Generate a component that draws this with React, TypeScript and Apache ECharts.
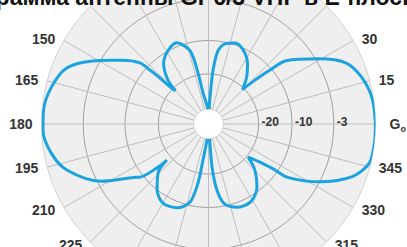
import React, { useEffect, useRef } from 'react';
import * as echarts from 'echarts';

const TITLE = 'Диаграмма антенны GP6/3 VHF в Е-плоскости';

// Pattern: angle (deg) and relative gain (dB)
const angles = [
  0, 9, 17, 24, 30.6, 39.2, 41.3, 43.4, 45.4, 50.7,
  57.1, 65, 71.9, 78.5, 82.7, 85.2, 86.8, 90, 94.5, 100,
  101.6, 104, 111.3, 119.3, 126.7, 132.6, 134.8, 136.1, 136.5, 137.3,
  138.3, 144.1, 149.5, 158.1, 166.9, 176.2, 182.1, 190.4, 198, 208.1,
  215.6, 217.7, 220.5, 220.9, 224.1, 232, 240, 249.4, 256.7, 259.9,
  261.3, 264.6, 270, 274.7, 277.3, 281.5, 289.4, 299.1, 307.6, 315.3,
  320.1, 323.9, 325.3, 326, 332.5, 339.9, 346.4, 353.6, 360,
];
const gainDb = [
  0, -0.1, -0.5, -1.2, -2.8, -7.2, -10.5, -16, -20.5, -17,
  -13.5, -10.5, -9.7, -10.5, -13, -19, -27, -33.5, -29.5, -25.5,
  -19.5, -12.5, -9.4, -10, -12.5, -17, -21, -19, -15, -11.5,
  -8.6, -5.8, -3, -1.1, -0.4, -0.1, -0.1, -0.5, -1.3, -3.6,
  -8.6, -9.4, -15, -18.5, -14, -10, -8.7, -9, -11, -17,
  -24, -30, -35, -22, -15, -10.5, -9.2, -9.2, -11.2, -15.5,
  -19.5, -15, -11, -8, -3, -1, -0.1, 0, 0,
];

// Radial grid rings (dB) and their labels
const ringDb = [-20, -10, -3];
const ringLabels = ['-20', '-10', '-3'];

// Angle tick labels that the diagram prints
const angleLabelValues = [0, 15, 30, 150, 165, 180, 195, 210, 225, 315, 330, 345];

// Radial scale of the diagram: dB -> fraction of outer radius
const scaleDb = [0, -3, -10, -20, -30, -40];
const scaleR = [1, 0.75, 0.5, 0.3, 0.1, 0];

function toR(db: number): number {
  if (db >= scaleDb[0]) return scaleR[0];
  for (let i = 1; i < scaleDb.length; i++) {
    if (db >= scaleDb[i]) {
      const t = (db - scaleDb[i - 1]) / (scaleDb[i] - scaleDb[i - 1]);
      return scaleR[i - 1] + t * (scaleR[i] - scaleR[i - 1]);
    }
  }
  return scaleR[scaleR.length - 1];
}

export default function App() {
  const ref = useRef<HTMLDivElement>(null);
  useEffect(() => {
    if (!ref.current) return;
    const chart = echarts.init(ref.current, null, { renderer: 'svg' });
    const R = 167;
    const R0 = 15;
    const center = [208.5, 124];
    const ringVals = ringDb.map(toR);
    const font = '"Liberation Sans", Arial, sans-serif';
    const hidden = {
      axisLine: { show: false },
      axisTick: { show: false },
      axisLabel: { show: false },
      splitLine: { show: false },
    };
    chart.setOption({
      animation: false,
      backgroundColor: '#ffffff',
      polar: [
        { center, radius: [R0, R] },
        { center, radius: [R0, R] },
      ],
      angleAxis: [
        {
          polarIndex: 0,
          type: 'value',
          min: 0,
          max: 360,
          interval: 15,
          startAngle: 0,
          clockwise: false,
          z: 0,
          ...hidden,
          splitArea: { show: true, areaStyle: { color: ['#efefef'] } },
        },
        {
          polarIndex: 1,
          type: 'value',
          min: 0,
          max: 360,
          interval: 15,
          startAngle: 0,
          clockwise: false,
          z: 1,
          axisLine: { show: true, lineStyle: { color: '#d2d2d2', width: 1 } },
          axisTick: { show: false },
          splitLine: { show: true, lineStyle: { color: '#bdbdbd', width: 1 } },
          splitArea: { show: false },
          axisLabel: {
            margin: 3,
            color: '#333333',
            fontSize: 14,
            fontWeight: 'bold',
            fontFamily: font,
            lineHeight: 1,
            padding: [0, 6, 0, 6],
            formatter: (v: number) => {
              if (angleLabelValues.indexOf(v) < 0) return '';
              return v === 0 ? '{g|G}{o|o}' : String(v);
            },
            rich: {
              g: { fontSize: 14, fontWeight: 'bold', fontFamily: font, color: '#333333', lineHeight: 1, padding: [0, 0, 0, 5] },
              o: { fontSize: 9, fontWeight: 'bold', fontFamily: font, color: '#333333', lineHeight: 1, padding: [9, 0, 0, 0] },
            },
          },
        },
      ],
      radiusAxis: [
        {
          polarIndex: 0,
          type: 'value',
          min: R0 / R,
          max: 1,
          z: 0,
          ...hidden,
        },
        {
          polarIndex: 1,
          type: 'value',
          min: R0 / R,
          max: 1,
          z: 1,
          axisLine: { show: false },
          axisTick: { show: false, customValues: ringVals },
          splitLine: { show: true, lineStyle: { color: '#a0a0a0', width: 1 } },
          axisLabel: {
            customValues: ringVals,
            formatter: (v: number) => {
              const i = ringVals.findIndex((x) => Math.abs(x - v) < 1e-6);
              return i >= 0 ? ringLabels[i] : '';
            },
            color: '#333333',
            fontSize: 12,
            fontWeight: 'bold',
            fontFamily: font,
            align: 'left',
            verticalAlign: 'middle',
            margin: 2,
            padding: [0, 0, 0, 3],
          },
        },
      ],
      graphic: [
        {
          type: 'text',
          z: 100,
          style: {
            text: TITLE,
            x: 204,
            y: -3,
            font: 'bold 23px ' + font,
            fill: '#111111',
            textAlign: 'center',
            textVerticalAlign: 'middle',
          },
        },
      ],
      series: [
        {
          type: 'line',
          coordinateSystem: 'polar',
          polarIndex: 1,
          data: angles.map((a, i) => [toR(gainDb[i]), a]),
          symbol: 'none',
          showSymbol: false,
          clip: false,
          smooth: 0.3,
          lineStyle: { color: '#1ba3e0', width: 3 },
          z: 10,
        },
      ],
    });
    return () => chart.dispose();
  }, []);
  return <div ref={ref} style={{ position: 'absolute', left: 0, top: 0, width: 407, height: 247 }} />;
}
